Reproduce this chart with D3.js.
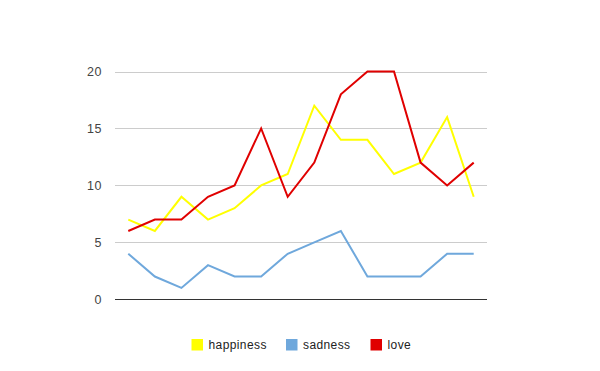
<!DOCTYPE html>
<html>
<head>
<meta charset="utf-8">
<script src="https://cdn.jsdelivr.net/npm/d3@7"></script>
<style>
body{margin:0;background:#fff;}
text{font-family:Arial,"Liberation Sans",sans-serif;}
</style>
</head>
<body>
<svg id="c" width="600" height="371"></svg>
<script>
const categories = d3.range(1, 15).map(String);
const happiness = [7, 6, 9, 7, 8, 10, 11, 17, 14, 14, 11, 12, 16, 9];
const sadness   = [4, 2, 1, 3, 2, 2, 4, 5, 6, 2, 2, 2, 4, 4];
const love      = [6, 7, 7, 9, 10, 15, 9, 12, 18, 20, 20, 12, 10, 12];
const yTicks = [0, 5, 10, 15, 20];
const seriesNames = ["happiness", "sadness", "love"];
const seriesColors = ["#ffff00", "#6fa8dc", "#e00000"];

const series = [happiness, sadness, love];
const svg = d3.select("#c");
const x = d3.scaleBand().domain(categories).range([115, 487]);
const y = d3.scaleLinear().domain([0, 20]).range([299.3, 71.5]);

// gridlines + labels
const yAxis = d3.axisLeft(y).tickValues(yTicks).tickSize(-(487 - 115)).tickPadding(13);
const g = svg.append("g").attr("transform", "translate(115,0)").call(yAxis);
g.select(".domain").remove();
g.selectAll(".tick line").attr("stroke", "#cccccc").attr("stroke-width", 1).attr("shape-rendering", "crispEdges");
g.selectAll(".tick text").attr("fill", "#444").attr("font-size", 12.5).attr("letter-spacing", 0.5)
  .attr("font-family", "Arial, 'Liberation Sans', sans-serif");

// baseline
svg.append("line").attr("x1", 115).attr("x2", 487).attr("y1", y(0)).attr("y2", y(0))
  .attr("stroke", "#333").attr("stroke-width", 1).attr("shape-rendering", "crispEdges");

const line = d3.line().x((d, i) => x(categories[i]) + x.bandwidth() / 2).y(d => y(d));
series.forEach((s, k) => {
  svg.append("path").datum(s).attr("d", line).attr("fill", "none")
    .attr("stroke", seriesColors[k]).attr("stroke-width", 2).attr("stroke-linejoin", "miter");
});

// legend
const legendX = [191.5, 286, 370.5];
seriesNames.forEach((n, k) => {
  const lg = svg.append("g").attr("transform", `translate(${legendX[k]},339)`);
  lg.append("rect").attr("width", 11.5).attr("height", 11.5).attr("fill", seriesColors[k]);
  lg.append("text").attr("x", 17).attr("y", 10).attr("font-size", 12).attr("letter-spacing", 0.4)
    .attr("fill", "#222").text(n);
});
</script>
</body>
</html>
